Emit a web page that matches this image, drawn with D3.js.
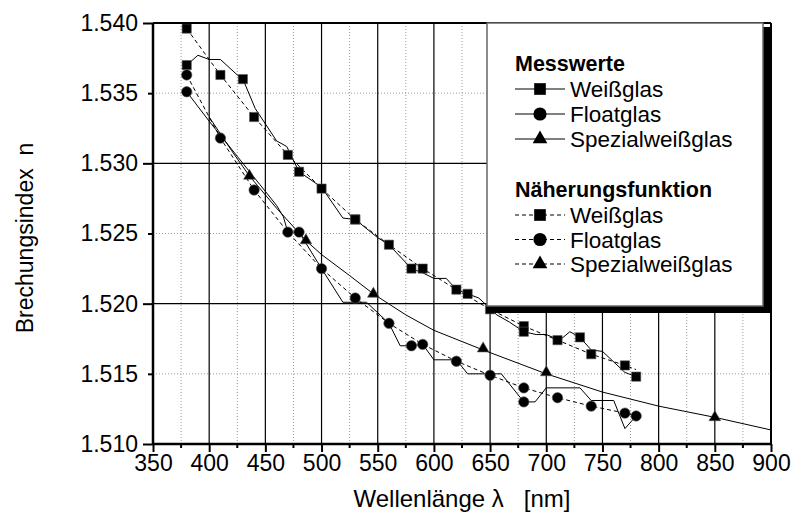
<!DOCTYPE html>
<html><head><meta charset="utf-8">
<script src="https://cdn.jsdelivr.net/npm/d3@7"></script>
<style>
html,body{margin:0;padding:0;background:#fff;}
svg text{font-family:"Liberation Sans",Arial,sans-serif;fill:#000;white-space:pre;}
</style></head>
<body><svg id="chart" width="799" height="518"></svg>
<script>
// ---- data ----
const xTicks = [350,400,450,500,550,600,650,700,750,800,850,900];
const yTicks = [1.510,1.515,1.520,1.525,1.530,1.535,1.540];

const weissMeasLine = [[380,1.5370],[390,1.5377],[400,1.5374],[410,1.5374],[425,1.5363],[430,1.5360],[441,1.5339],[460,1.5316],[469,1.5312],[480,1.5294],[500,1.5283],[519,1.5261],[530,1.5260],[550,1.5247],[560,1.5242],[580,1.5225],[590,1.5222],[600,1.5218],[611,1.5218],[620,1.5210],[630,1.5207],[640,1.5204],[656,1.5192],[667,1.5187],[680,1.5180],[691,1.5178],[700,1.5178],[712,1.5174],[721,1.5180],[730,1.5176],[740,1.5167],[750,1.5166],[770,1.5151],[780,1.5148]];
const weissMeasMarkers = [[380,1.5370],[430,1.5360],[480,1.5294],[530,1.5260],[580,1.5225],[630,1.5207],[680,1.5180],[730,1.5176],[780,1.5148]];
const weissFitLine = [[380,1.5396],[410,1.5363],[440,1.5333],[470,1.5306],[500,1.5282],[530,1.5260],[560,1.5242],[590,1.5225],[620,1.5210],[650,1.5196],[680,1.5184],[710,1.5174],[740,1.5164],[770,1.5156],[780,1.5153]];
const weissFitMarkers = [[380,1.5396],[410,1.5363],[440,1.5333],[470,1.5306],[500,1.5282],[530,1.5260],[560,1.5242],[590,1.5225],[620,1.5210],[650,1.5196],[680,1.5184],[710,1.5174],[740,1.5164],[770,1.5156]];

const floatMeasLine = [[380,1.5351],[400,1.5330],[425,1.5305],[445,1.5285],[460,1.5270],[466,1.5262],[470,1.5251],[480,1.5251],[500,1.5225],[519,1.5201],[540,1.5201],[560,1.5186],[570,1.5170],[580,1.5170],[590,1.5171],[600,1.5160],[620,1.5160],[630,1.5150],[660,1.5150],[680,1.5130],[690,1.5130],[700,1.5140],[730,1.5140],[740,1.5131],[760,1.5131],[770,1.5111],[780,1.5120]];
const floatMeasMarkers = [[380,1.5351],[480,1.5251],[580,1.5170],[680,1.5130],[780,1.5120]];
const floatFitLine = [[380,1.5363],[410,1.5318],[440,1.5281],[470,1.5251],[500,1.5225],[530,1.5204],[560,1.5186],[590,1.5171],[620,1.5159],[650,1.5149],[680,1.5140],[710,1.5133],[740,1.5127],[770,1.5122],[780,1.5120]];
const floatFitMarkers = [[380,1.5363],[410,1.5318],[440,1.5281],[470,1.5251],[500,1.5225],[530,1.5204],[560,1.5186],[590,1.5171],[620,1.5159],[650,1.5149],[680,1.5140],[710,1.5133],[740,1.5127],[770,1.5122]];

const spezLine = [[400,1.5333],[420,1.5309],[435.8,1.5291],[460,1.5268],[486.1,1.5245],[500,1.5235],[525,1.5220],[546.1,1.5207],[575,1.5192],[600,1.5181],[643.8,1.5167],[700,1.5150],[750,1.5137],[800,1.5127],[850,1.5119],[900,1.5110]];
const spezMarkers = [[435.8,1.5291],[486.1,1.5245],[546.1,1.5207],[643.8,1.5168],[700,1.5151],[850,1.5119]];

const legendGroups = ["Messwerte","Näherungsfunktion"];
const legendNames = ["Weißglas","Floatglas","Spezialweißglas"];
const markerTypes = ["square","circle","triangle"];

// ---- layout ----
const svg = d3.select("#chart");
const L=153, R=771, T=23, B=444;
const x = d3.scaleLinear().domain([350,900]).range([L,R]);
const y = d3.scaleLinear().domain([1.510,1.540]).range([B,T]);

// grid
const minorX = d3.range(375,900,50);
const majorX = d3.range(400,900,50);
const minorY = [1.515,1.525,1.535];
const majorY = [1.520,1.530];
const g = svg.append("g");
g.selectAll(".mx").data(minorX).join("line").attr("x1",d=>x(d)).attr("x2",d=>x(d)).attr("y1",T).attr("y2",B)
 .attr("stroke","#9a9a9a").attr("stroke-width",1).attr("stroke-dasharray","1,2");
g.selectAll(".my").data(minorY).join("line").attr("y1",d=>y(d)).attr("y2",d=>y(d)).attr("x1",L).attr("x2",R)
 .attr("stroke","#9a9a9a").attr("stroke-width",1).attr("stroke-dasharray","1,2");
g.selectAll(".Mx").data(majorX).join("line").attr("x1",d=>x(d)).attr("x2",d=>x(d)).attr("y1",T).attr("y2",B)
 .attr("stroke","#000").attr("stroke-width",1.2);
g.selectAll(".My").data(majorY).join("line").attr("y1",d=>y(d)).attr("y2",d=>y(d)).attr("x1",L).attr("x2",R)
 .attr("stroke","#000").attr("stroke-width",1.2);

// data lines
const line = d3.line().x(d=>x(d[0])).y(d=>y(d[1]));
function drawLine(data, dashed){
  svg.append("path").datum(data).attr("d",line).attr("fill","none").attr("stroke","#000")
    .attr("stroke-width",1).attr("stroke-dasharray",dashed?"4,3":null);
}
drawLine(weissFitLine,true); drawLine(floatFitLine,true);
drawLine(weissMeasLine,false); drawLine(floatMeasLine,false); drawLine(spezLine,false);

const sym = {square:d3.symbolSquare, circle:d3.symbolCircle, triangle:d3.symbolTriangle};
const symSize = {square:85, circle:85, triangle:58};
function drawMarkers(data,type,scale){
  const s = scale||1;
  svg.append("g").selectAll("path").data(data).join("path")
    .attr("transform",d=>`translate(${x(d[0])},${y(d[1])})`)
    .attr("d",d3.symbol().type(sym[type]).size(symSize[type]*s))
    .attr("fill","#000").attr("stroke","#555").attr("stroke-width",0.6);
}
drawMarkers(weissFitMarkers,"square"); drawMarkers(weissMeasMarkers,"square");
drawMarkers(floatFitMarkers,"circle"); drawMarkers(floatMeasMarkers,"circle");
drawMarkers(spezMarkers,"triangle");

// axes
const ax = svg.append("g").attr("transform",`translate(0,${B})`)
  .call(d3.axisBottom(x).tickValues(xTicks).tickSize(8).tickSizeOuter(0).tickPadding(4).tickFormat(d3.format("d")));
ax.select(".domain").remove();
ax.selectAll(".tick line").attr("stroke-width",2);
ax.selectAll("text").attr("font-size",23).attr("dy","0.71em").attr("y",11);
svg.append("g").attr("transform",`translate(0,${B})`).selectAll("line").data(minorX).join("line")
  .attr("x1",d=>x(d)).attr("x2",d=>x(d)).attr("y1",0).attr("y2",4).attr("stroke","#000").attr("stroke-width",2);

const ay = svg.append("g").attr("transform",`translate(${L},0)`)
  .call(d3.axisLeft(y).tickValues(yTicks).tickSize(10).tickSizeOuter(0).tickPadding(6).tickFormat(d3.format(".3f")));
ay.select(".domain").remove();
ay.selectAll(".tick line").attr("stroke-width",2).attr("x2",d=>Math.round(d*1000)%10===0?-10:-5);
ay.selectAll("text").attr("font-size",23).attr("x",-15);

// frame
svg.append("line").attr("x1",L).attr("x2",R).attr("y1",B).attr("y2",B).attr("stroke","#000").attr("stroke-width",2.5);
svg.append("line").attr("x1",L).attr("x2",L).attr("y1",T).attr("y2",B+1).attr("stroke","#000").attr("stroke-width",2.5);
svg.append("line").attr("x1",L).attr("x2",R).attr("y1",T).attr("y2",T).attr("stroke","#000").attr("stroke-width",2);
svg.append("line").attr("x1",R).attr("x2",R).attr("y1",T).attr("y2",B).attr("stroke","#000").attr("stroke-width",2);

// legend
const LX0=487, LY0=23, LX1=763, LY1=306;
svg.append("rect").attr("x",LX0).attr("y",LY0+4).attr("width",LX1-LX0+9).attr("height",LY1-LY0+3).attr("fill","#000");
svg.append("rect").attr("x",LX0).attr("y",LY0).attr("width",LX1-LX0).attr("height",LY1-LY0)
  .attr("fill","#fff").attr("stroke","#666").attr("stroke-width",1.5);
const headerY=[71,197], rowY=[[89,114,139],[215,239.5,264]];
legendGroups.forEach((h,gi)=>{
  svg.append("text").attr("x",515).attr("y",headerY[gi]).attr("font-size",21.5).attr("font-weight","bold").text(h);
  legendNames.forEach((n,i)=>{
    const yy=rowY[gi][i];
    svg.append("line").attr("x1",515).attr("x2",565).attr("y1",yy).attr("y2",yy).attr("stroke","#000").attr("stroke-width",1)
      .attr("stroke-dasharray",gi===1?"4,3":null);
    svg.append("path").attr("transform",`translate(540,${yy})`)
      .attr("d",d3.symbol().type(sym[markerTypes[i]]).size(symSize[markerTypes[i]]*1.6)).attr("fill","#000");
    svg.append("text").attr("x",570).attr("y",yy+8).attr("font-size",22.5).text(n);
  });
});

// axis titles
svg.append("text").attr("x",(L+R)/2).attr("y",507).attr("text-anchor","middle").attr("font-size",24)
  .attr("xml:space","preserve").text("Wellenlänge λ   [nm]");
svg.append("text").attr("transform",`translate(33,238) rotate(-90)`).attr("text-anchor","middle").attr("font-size",23)
  .attr("xml:space","preserve").text("Brechungsindex  n");
</script></body></html>
